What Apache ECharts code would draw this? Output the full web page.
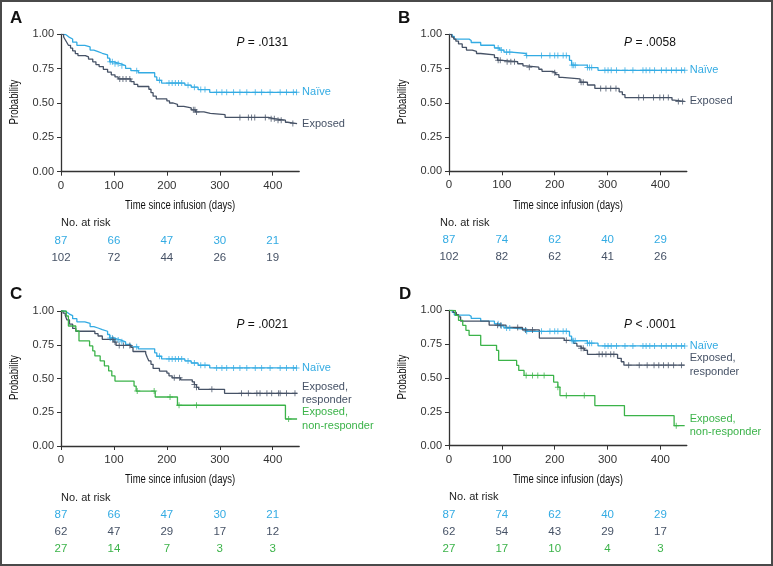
<!DOCTYPE html>
<html><head><meta charset="utf-8">
<script src="https://cdn.jsdelivr.net/npm/echarts@6/dist/echarts.min.js"></script>
<style>html,body{margin:0;padding:0;background:#fff}#c{width:773px;height:566px}</style>
</head><body><div id="c"></div>
<script>
// ---------- data ----------
const xTicks = [0, 100, 200, 300, 400];
const yTicks = [0, 0.25, 0.5, 0.75, 1];

// Kaplan-Meier step points [day, survival]
const naiveA = [[0,1],[8,0.989],[12,0.977],[16,0.966],[22,0.943],[30,0.92],[45,0.908],[55,0.885],[62,0.874],[70,0.862],[78,0.85],[88,0.826],[92,0.80],[100,0.786],[112,0.772],[122,0.752],[132,0.735],[146,0.72],[177,0.69],[181,0.665],[190,0.645],[234,0.63],[246,0.615],[259,0.598],[281,0.578]];
const naiveA_cens = [93,97,102,108,115,143,186,204,210,216,222,228,240,252,264,272,294,304,313,326,338,351,367,379,395,414,426,439,445];

const expA = [[0,1],[5,0.98],[8,0.96],[11,0.94],[14,0.92],[18,0.90],[22,0.88],[27,0.86],[32,0.845],[46,0.835],[52,0.82],[60,0.80],[66,0.78],[72,0.765],[80,0.745],[88,0.725],[95,0.705],[102,0.69],[108,0.675],[132,0.655],[138,0.635],[145,0.62],[166,0.60],[170,0.575],[174,0.55],[180,0.53],[200,0.515],[205,0.50],[212,0.49],[220,0.475],[232,0.465],[246,0.45],[254,0.435],[270,0.425],[282,0.415],[310,0.395],[392,0.385],[405,0.375],[424,0.36],[428,0.35]];
const expA_cens = [111,117,123,130,250,253,256,338,354,360,366,386,397,403,410,416,438];

const naiveB = [[0,1],[6,0.985],[10,0.965],[38,0.955],[42,0.94],[60,0.92],[86,0.90],[96,0.885],[104,0.87],[118,0.86],[146,0.845],[228,0.81],[232,0.775],[262,0.757],[282,0.737]];
const naiveB_cens = [93,99,109,115,147,175,191,200,206,216,222,233,236,239,262,266,270,295,301,307,317,333,348,367,373,380,389,402,411,421,430,440,446];

const expB = [[0,1],[5,0.98],[9,0.965],[13,0.95],[18,0.93],[25,0.905],[33,0.885],[44,0.875],[52,0.86],[60,0.85],[86,0.83],[92,0.81],[100,0.80],[130,0.785],[140,0.77],[146,0.76],[170,0.745],[176,0.73],[196,0.72],[202,0.705],[208,0.685],[214,0.675],[248,0.65],[262,0.63],[276,0.605],[322,0.58],[328,0.56],[333,0.538],[422,0.52],[426,0.51]];
const expB_cens = [93,97,110,117,124,152,200,250,254,287,297,306,316,359,368,387,399,406,415,434,442];

const respC = [[0,1],[4,0.984],[8,0.968],[11,0.935],[16,0.903],[22,0.871],[28,0.85],[64,0.832],[70,0.815],[78,0.79],[100,0.77],[104,0.745],[132,0.73],[136,0.70],[160,0.685],[163,0.655],[166,0.63],[170,0.605],[174,0.575],[186,0.555],[200,0.54],[204,0.52],[210,0.505],[226,0.49],[248,0.475],[252,0.455],[256,0.435],[260,0.42],[309,0.39]];
const respC_cens = [98,102,110,118,130,214,224,252,256,285,341,354,370,376,389,398,411,414,426,442];

const nonC = [[0,1],[10,0.963],[14,0.889],[28,0.852],[34,0.778],[54,0.741],[60,0.704],[64,0.667],[74,0.63],[82,0.593],[90,0.556],[96,0.519],[102,0.481],[138,0.444],[142,0.407],[178,0.363],[220,0.302],[424,0.20]];
const nonC_cens = [144,176,206,223,256,430];

const respD = [[0,1],[8,0.984],[14,0.968],[18,0.952],[22,0.92],[76,0.89],[108,0.873],[139,0.855],[171,0.795],[218,0.778],[236,0.755],[242,0.735],[250,0.72],[256,0.705],[262,0.675],[319,0.645],[326,0.62],[331,0.595]];
const respD_cens = [92,98,130,145,158,222,250,254,284,290,297,306,312,340,360,375,388,397,406,415,425,440];

const nonD = [[0,1],[12,0.963],[18,0.926],[26,0.889],[32,0.852],[38,0.815],[60,0.741],[90,0.704],[94,0.63],[128,0.593],[132,0.556],[142,0.519],[198,0.47],[206,0.432],[210,0.37],[276,0.296],[332,0.222],[426,0.148]];
const nonD_cens = [146,158,168,180,206,222,256,430];

const lastDay = 446;

// numbers at risk
const riskA_naive = [87,66,47,30,21];
const riskA_exposed = [102,72,44,26,19];
const riskB_naive = [87,74,62,40,29];
const riskB_exposed = [102,82,62,41,26];
const riskC_naive = [87,66,47,30,21];
const riskC_resp = [62,47,29,17,12];
const riskC_non = [27,14,7,3,3];
const riskD_naive = [87,74,62,40,29];
const riskD_resp = [62,54,43,29,17];
const riskD_non = [27,17,10,4,3];

// ---------- styling / layout ----------
const BLUE = '#33abe3', DARK = '#465266', GREEN = '#3bb349';
const FONT = "'Liberation Sans', Arial, Helvetica, sans-serif";
const PLUS = 'path://M4.2,0H5.8V4.2H10V5.8H5.8V10H4.2V5.8H0V4.2H4.2Z';

const panels = [
  {letter:'A', letterPos:[10,18.5], box:[61,34.3,238.2,137.4], p:'= .0131', pDy:8.5, noDx:0,
   curves:[{name:'Naïve', km:naiveA, cens:naiveA_cens, color:BLUE},
           {name:'Exposed', km:expA, cens:expA_cens, color:DARK}],
   risk:[[riskA_naive,BLUE],[riskA_exposed,DARK]]},
  {letter:'B', letterPos:[398,18.5], box:[449,34.3,237.8,137], p:'= .0058', pDy:8.5, noDx:-9,
   curves:[{name:'Naïve', km:naiveB, cens:naiveB_cens, color:BLUE},
           {name:'Exposed', km:expB, cens:expB_cens, color:DARK}],
   risk:[[riskB_naive,BLUE],[riskB_exposed,DARK]]},
  {letter:'C', letterPos:[10,294.7], box:[61,311,238.2,135], p:'= .0021', pDy:13.5, noDx:0,
   curves:[{name:'Naïve', km:naiveA, cens:naiveA_cens, color:BLUE},
           {name:'Exposed,\nresponder', km:respC, cens:respC_cens, color:DARK},
           {name:'Exposed,\nnon-responder', km:nonC, cens:nonC_cens, color:GREEN}],
   risk:[[riskC_naive,BLUE],[riskC_resp,DARK],[riskC_non,GREEN]]},
  {letter:'D', letterPos:[399,294.7], box:[449,310.3,237.8,135.4], p:'< .0001', pDy:14, noDx:0,
   curves:[{name:'Naïve', km:naiveB, cens:naiveB_cens, color:BLUE},
           {name:'Exposed,\nresponder', km:respD, cens:respD_cens, color:DARK},
           {name:'Exposed,\nnon-responder', km:nonD, cens:nonD_cens, color:GREEN}],
   risk:[[riskD_naive,BLUE],[riskD_resp,DARK],[riskD_non,GREEN]]}
];

function survAt(km, t){ let s = km[0][1]; for (const d of km){ if (d[0] <= t) s = d[1]; else break; } return s; }

const grid = [], xAxis = [], yAxis = [], series = [];
const axisLineStyle = {color:'#333', width:1.3};
panels.forEach((p, i) => {
  grid.push({left:p.box[0], top:p.box[1], width:p.box[2], height:p.box[3]});
  xAxis.push({type:'value', gridIndex:i, min:0, max:450, interval:100,
    axisLine:{show:true, onZero:false, lineStyle:axisLineStyle},
    axisTick:{show:true, length:4, lineStyle:{color:'#333', width:1}, customValues:xTicks},
    axisLabel:{color:'#333', fontSize:11.5, fontFamily:FONT, margin:8, customValues:xTicks},
    splitLine:{show:false}});
  yAxis.push({type:'value', gridIndex:i, min:0, max:1, interval:0.25,
    axisLine:{show:true, onZero:false, lineStyle:axisLineStyle},
    axisTick:{show:true, length:4, lineStyle:{color:'#333', width:1}, customValues:yTicks},
    axisLabel:{color:'#333', fontSize:11, fontFamily:FONT, margin:7, customValues:yTicks, formatter:v => v.toFixed(2)},
    splitLine:{show:false}});
  p.curves.forEach(c => {
    const data = c.km.map(d => [d[0], d[1]]);
    data.push([lastDay, c.km[c.km.length - 1][1]]);
    series.push({type:'line', xAxisIndex:i, yAxisIndex:i, data, step:'end', showSymbol:false, symbol:'none',
      lineStyle:{color:c.color, width:1.3}, itemStyle:{color:c.color}, silent:true,
      endLabel:{show:true, formatter:c.name, color:c.color, fontSize:11, fontFamily:FONT, distance:5, lineHeight:13.5, align:'left'}});
    series.push({type:'scatter', xAxisIndex:i, yAxisIndex:i, data:c.cens.map(t => [t, survAt(c.km, t)]),
      symbol:PLUS, symbolSize:6, itemStyle:{color:c.color}, silent:true, z:3});
  });
});

const chart = echarts.init(document.getElementById('c'), null, {renderer:'canvas'});
chart.setOption({animation:false, backgroundColor:'#fff', grid, xAxis, yAxis, series});

function txt(x, y, text, opt){
  const o = Object.assign({fontSize:11, color:'#222', align:'left', va:'middle', weight:'normal'}, opt || {});
  const el = {type:'text', x, y, silent:true, z:10,
    style:{text, fill:o.color, font:o.weight + ' ' + o.fontSize + 'px ' + (o.family || FONT),
      align:o.align, verticalAlign:o.va, textAlign:o.align, textVerticalAlign:o.va}};
  if (o.rich) el.style.rich = o.rich;
  if (o.scaleX) el.scaleX = o.scaleX;
  if (o.rotation) el.rotation = o.rotation;
  return el;
}

const g = [{type:'rect', silent:true, shape:{x:1, y:1, width:771, height:564}, style:{fill:'none', stroke:'#4a4a4a', lineWidth:2}}];
panels.forEach((p, i) => {
  const [L, T, W, H] = p.box; const B = T + H;
  g.push(txt(p.letterPos[0], p.letterPos[1], p.letter, {fontSize:17, weight:'bold', color:'#111'}));
  g.push(txt(L + W - 11, T + p.pDy, '{i|P} ' + p.p, {fontSize:12, color:'#111', align:'right',
    rich:{i:{fontStyle:'italic', fontSize:12, fontFamily:FONT, fill:'#111', color:'#111'}}}));
  g.push(txt(L + W / 2, B + 34, 'Time since infusion (days)', {fontSize:12.5, color:'#111', align:'center', scaleX:0.76}));
  g.push(txt(L - 46, T + H / 2 - 1, 'Probability', {fontSize:12, color:'#111', align:'center', scaleX:0.8, rotation:Math.PI / 2}));
  g.push(txt(L + p.noDx, B + 51.5, 'No. at risk', {fontSize:11, color:'#222'}));
  p.risk.forEach((row, r) => {
    row[0].forEach((n, k) => {
      const x = chart.convertToPixel({xAxisIndex:i}, xTicks[k]);
      g.push(txt(x, B + 68.8 + 17 * r, String(n), {fontSize:11.5, color:row[1], align:'center'}));
    });
  });
});
chart.setOption({graphic:g});
</script>
</body></html>
